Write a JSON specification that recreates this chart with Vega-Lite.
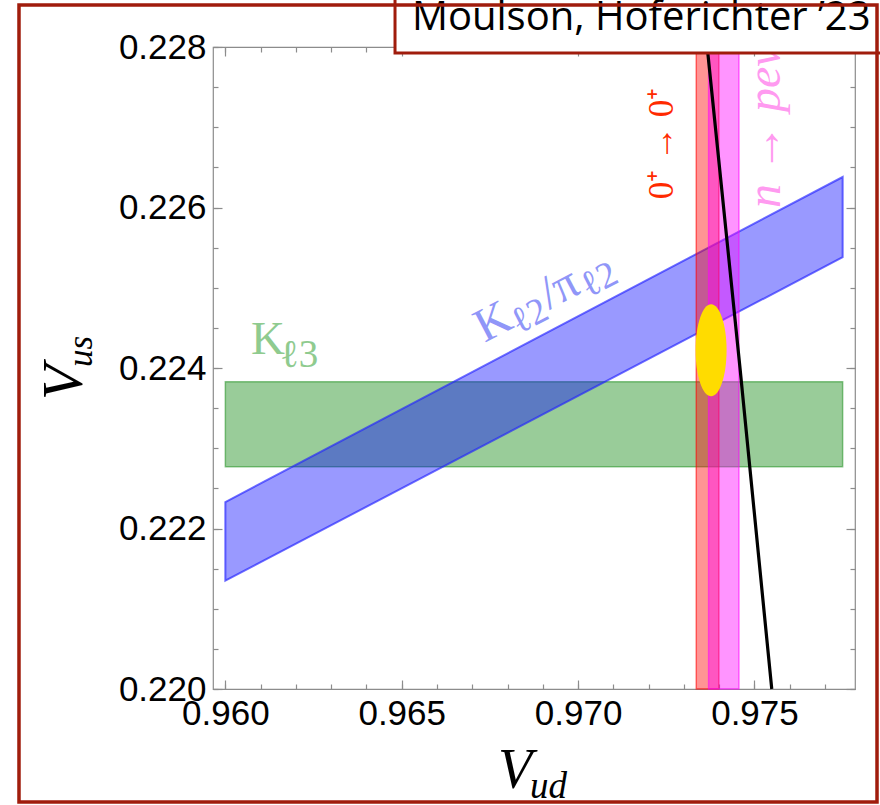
{
  "$schema": "https://vega.github.io/schema/vega-lite/v6.json",
  "width": 642,
  "height": 642,
  "autosize": {"type": "none"},
  "padding": {"left": 213, "top": 47, "right": 25, "bottom": 116},
  "background": "white",
  "config": {
    "view": {"stroke": "#8c8c8c", "strokeWidth": 1.2},
    "axis": {"grid": false, "domain": false, "tickColor": "#8c8c8c", "tickWidth": 1.2, "labelFont": "Liberation Sans", "labelFontSize": 35, "labelColor": "black", "labelFlush": false, "labelOverlap": false}
  },
  "datasets": {
    "bands": [
      {"band": "Kl3", "x": 0.96, "x2": 0.9775, "y": 0.22277, "y2": 0.22383},
      {"band": "superallowed", "x": 0.97335, "x2": 0.97399, "y": 0.22, "y2": 0.228},
      {"band": "neutron", "x": 0.9737, "x2": 0.97456, "y": 0.22, "y2": 0.228}
    ],
    "kl2": [
      {"x": 0.96, "y": 0.22233, "y2": 0.22135},
      {"x": 0.9775, "y": 0.22638, "y2": 0.22538}
    ],
    "unitarity": [
      {"x": 0.97366, "y": 0.228},
      {"x": 0.97459, "y": 0.224},
      {"x": 0.97549, "y": 0.22}
    ],
    "fit": [{"x": 0.97377, "y": 0.22422}],
    "labels": [
      {"kind": "kl3", "text": "K", "x": 0.96073, "y": 0.224174},
      {"kind": "kl3sub", "text": "ℓ3", "x": 0.96155, "y": 0.224012},
      {"kind": "kl2", "text": "K", "x": 0.96735, "y": 0.224312},
      {"kind": "kl2sub", "text": "ℓ2", "x": 0.96832, "y": 0.224419},
      {"kind": "kl2", "text": "/π", "x": 0.96918, "y": 0.224726},
      {"kind": "kl2sub", "text": "ℓ2", "x": 0.97029, "y": 0.22487},
      {"kind": "superallowed", "text": "0⁺ → 0⁺", "x": 0.97269, "y": 0.226798},
      {"kind": "neutron", "text": "n → peν", "x": 0.97572, "y": 0.225994},
      {"kind": "vus", "text": "V", "x": 0.955936, "y": 0.223601},
      {"kind": "vussub", "text": "us", "x": 0.95622, "y": 0.224012},
      {"kind": "vud", "text": "V", "x": 0.96773, "y": 0.218766},
      {"kind": "vudsub", "text": "ud", "x": 0.96864, "y": 0.218642},
      {"kind": "title", "text": "Moulson, Hoferichter ’23", "x": 0.96529, "y": 0.228211}
    ],
    "decor": [
      {"part": "box", "x": 0.96481, "x2": 0.97913, "y": 0.227925, "y2": 0.22871},
      {"part": "frame", "x": 0.95415, "x2": 0.978474, "y": 0.218592, "y2": 0.228523}
    ]
  },
  "resolve": {"axis": {"x": "independent", "y": "independent"}},
  "layer": [
    {
      "data": {"name": "bands"},
      "transform": [{"filter": "datum.band === 'Kl3'"}],
      "mark": {"type": "rect", "fill": "#008000", "fillOpacity": 0.4, "stroke": "#008000", "strokeOpacity": 0.45, "strokeWidth": 1.5},
      "encoding": {
        "x": {"field": "x", "type": "quantitative", "scale": {"domain": [0.95965, 0.97785], "nice": false, "zero": false},
              "axis": {"orient": "bottom", "title": null, "values": [0.96, 0.965, 0.97, 0.975], "format": ".3f", "tickSize": -9, "labelPadding": 16}},
        "x2": {"field": "x2"},
        "y": {"field": "y", "type": "quantitative", "scale": {"domain": [0.22, 0.228], "nice": false, "zero": false},
              "axis": {"orient": "left", "title": null, "values": [0.22, 0.222, 0.224, 0.226, 0.228], "format": ".3f", "tickSize": -9, "labelPadding": 16}},
        "y2": {"field": "y2"}
      }
    },
    {
      "data": {"name": "kl2"},
      "mark": {"type": "area", "fill": "#0000ff", "fillOpacity": 0.4, "stroke": "#2020ff", "strokeOpacity": 0.65, "strokeWidth": 2},
      "encoding": {
        "x": {"field": "x", "type": "quantitative", "scale": {"domain": [0.95965, 0.97785], "nice": false, "zero": false},
              "axis": {"orient": "bottom", "title": null, "labels": false, "tickSize": -5, "values": [0.96, 0.961, 0.962, 0.963, 0.964, 0.965, 0.966, 0.967, 0.968, 0.969, 0.97, 0.971, 0.972, 0.973, 0.974, 0.975, 0.976, 0.977]}},
        "y": {"field": "y", "type": "quantitative", "scale": {"domain": [0.22, 0.228], "nice": false, "zero": false},
              "axis": {"orient": "left", "title": null, "labels": false, "tickSize": -5, "values": [0.22, 0.2205, 0.221, 0.2215, 0.222, 0.2225, 0.223, 0.2235, 0.224, 0.2245, 0.225, 0.2255, 0.226, 0.2265, 0.227, 0.2275, 0.228]}},
        "y2": {"field": "y2"}
      }
    },
    {
      "data": {"name": "bands"},
      "transform": [{"filter": "datum.band === 'superallowed'"}],
      "mark": {"type": "rect", "fill": "#ff0000", "fillOpacity": 0.42, "stroke": "#ff0000", "strokeOpacity": 0.55, "strokeWidth": 1.5},
      "encoding": {
        "x": {"field": "x", "type": "quantitative", "scale": {"domain": [0.95965, 0.97785], "nice": false, "zero": false},
              "axis": {"orient": "top", "title": null, "labels": false, "tickSize": -9, "values": [0.96, 0.965, 0.97, 0.975]}},
        "x2": {"field": "x2"},
        "y": {"field": "y", "type": "quantitative", "scale": {"domain": [0.22, 0.228], "nice": false, "zero": false},
              "axis": {"orient": "right", "title": null, "labels": false, "tickSize": -9, "values": [0.22, 0.222, 0.224, 0.226, 0.228]}},
        "y2": {"field": "y2"}
      }
    },
    {
      "data": {"name": "bands"},
      "transform": [{"filter": "datum.band === 'neutron'"}],
      "mark": {"type": "rect", "fill": "#ff00ff", "fillOpacity": 0.42, "stroke": "#ff00ff", "strokeOpacity": 0.55, "strokeWidth": 1.5},
      "encoding": {
        "x": {"field": "x", "type": "quantitative", "scale": {"domain": [0.95965, 0.97785], "nice": false, "zero": false},
              "axis": {"orient": "top", "title": null, "labels": false, "tickSize": -5, "values": [0.96, 0.961, 0.962, 0.963, 0.964, 0.965, 0.966, 0.967, 0.968, 0.969, 0.97, 0.971, 0.972, 0.973, 0.974, 0.975, 0.976, 0.977]}},
        "x2": {"field": "x2"},
        "y": {"field": "y", "type": "quantitative", "scale": {"domain": [0.22, 0.228], "nice": false, "zero": false},
              "axis": {"orient": "right", "title": null, "labels": false, "tickSize": -5, "values": [0.22, 0.2205, 0.221, 0.2215, 0.222, 0.2225, 0.223, 0.2235, 0.224, 0.2245, 0.225, 0.2255, 0.226, 0.2265, 0.227, 0.2275, 0.228]}},
        "y2": {"field": "y2"}
      }
    },
    {
      "data": {"name": "unitarity"},
      "mark": {"type": "line", "stroke": "black", "strokeWidth": 3.2},
      "encoding": {
        "x": {"field": "x", "type": "quantitative", "scale": {"domain": [0.95965, 0.97785], "nice": false, "zero": false}, "axis": null},
        "y": {"field": "y", "type": "quantitative", "scale": {"domain": [0.22, 0.228], "nice": false, "zero": false}, "axis": null}
      }
    },
    {
      "data": {"name": "fit"},
      "mark": {"type": "point", "shape": "M0,-1 A0.337,1 0 1,1 0,1 A0.337,1 0 1,1 0,-1 Z", "size": 8464, "filled": true, "fill": "#ffdc00", "opacity": 1, "strokeWidth": 0},
      "encoding": {
        "x": {"field": "x", "type": "quantitative", "scale": {"domain": [0.95965, 0.97785], "nice": false, "zero": false}, "axis": null},
        "y": {"field": "y", "type": "quantitative", "scale": {"domain": [0.22, 0.228], "nice": false, "zero": false}, "axis": null}
      }
    },
    {
      "data": {"name": "labels"},
      "transform": [{"filter": "datum.kind === 'kl3'"}],
      "mark": {"type": "text", "font": "Liberation Serif", "fontSize": 47, "fill": "#8fcb8f", "align": "left", "baseline": "alphabetic"},
      "encoding": {
        "x": {"field": "x", "type": "quantitative", "scale": {"domain": [0.95965, 0.97785], "nice": false, "zero": false}, "axis": null},
        "y": {"field": "y", "type": "quantitative", "scale": {"domain": [0.22, 0.228], "nice": false, "zero": false}, "axis": null},
        "text": {"field": "text"}
      }
    },
    {
      "data": {"name": "labels"},
      "transform": [{"filter": "datum.kind === 'kl3sub'"}],
      "mark": {"type": "text", "font": "Liberation Serif", "fontSize": 39, "fill": "#8fcb8f", "align": "left", "baseline": "alphabetic"},
      "encoding": {
        "x": {"field": "x", "type": "quantitative", "scale": {"domain": [0.95965, 0.97785], "nice": false, "zero": false}, "axis": null},
        "y": {"field": "y", "type": "quantitative", "scale": {"domain": [0.22, 0.228], "nice": false, "zero": false}, "axis": null},
        "text": {"field": "text"}
      }
    },
    {
      "data": {"name": "labels"},
      "transform": [{"filter": "datum.kind === 'kl2'"}],
      "mark": {"type": "text", "font": "Liberation Serif", "fontSize": 48, "fill": "#9096f8", "align": "left", "baseline": "alphabetic", "angle": 332.4},
      "encoding": {
        "x": {"field": "x", "type": "quantitative", "scale": {"domain": [0.95965, 0.97785], "nice": false, "zero": false}, "axis": null},
        "y": {"field": "y", "type": "quantitative", "scale": {"domain": [0.22, 0.228], "nice": false, "zero": false}, "axis": null},
        "text": {"field": "text"}
      }
    },
    {
      "data": {"name": "labels"},
      "transform": [{"filter": "datum.kind === 'kl2sub'"}],
      "mark": {"type": "text", "font": "Liberation Serif", "fontSize": 37, "fill": "#9096f8", "align": "left", "baseline": "alphabetic", "angle": 332.4},
      "encoding": {
        "x": {"field": "x", "type": "quantitative", "scale": {"domain": [0.95965, 0.97785], "nice": false, "zero": false}, "axis": null},
        "y": {"field": "y", "type": "quantitative", "scale": {"domain": [0.22, 0.228], "nice": false, "zero": false}, "axis": null},
        "text": {"field": "text"}
      }
    },
    {
      "data": {"name": "labels"},
      "transform": [{"filter": "datum.kind === 'superallowed'"}],
      "mark": {"type": "text", "font": "Liberation Serif", "fontSize": 35, "fill": "#ff2a00", "align": "center", "baseline": "alphabetic", "angle": 270},
      "encoding": {
        "x": {"field": "x", "type": "quantitative", "scale": {"domain": [0.95965, 0.97785], "nice": false, "zero": false}, "axis": null},
        "y": {"field": "y", "type": "quantitative", "scale": {"domain": [0.22, 0.228], "nice": false, "zero": false}, "axis": null},
        "text": {"field": "text"}
      }
    },
    {
      "data": {"name": "labels"},
      "transform": [{"filter": "datum.kind === 'neutron'"}],
      "mark": {"type": "text", "font": "Liberation Serif", "fontSize": 48, "fontStyle": "italic", "fill": "#ff9af0", "align": "left", "baseline": "alphabetic", "angle": 270},
      "encoding": {
        "x": {"field": "x", "type": "quantitative", "scale": {"domain": [0.95965, 0.97785], "nice": false, "zero": false}, "axis": null},
        "y": {"field": "y", "type": "quantitative", "scale": {"domain": [0.22, 0.228], "nice": false, "zero": false}, "axis": null},
        "text": {"field": "text"}
      }
    },
    {
      "data": {"name": "labels"},
      "transform": [{"filter": "datum.kind === 'vus'"}],
      "mark": {"type": "text", "font": "Liberation Serif", "fontSize": 58, "fontStyle": "italic", "fill": "black", "align": "left", "baseline": "alphabetic", "angle": 270},
      "encoding": {
        "x": {"field": "x", "type": "quantitative", "scale": {"domain": [0.95965, 0.97785], "nice": false, "zero": false}, "axis": null},
        "y": {"field": "y", "type": "quantitative", "scale": {"domain": [0.22, 0.228], "nice": false, "zero": false}, "axis": null},
        "text": {"field": "text"}
      }
    },
    {
      "data": {"name": "labels"},
      "transform": [{"filter": "datum.kind === 'vussub'"}],
      "mark": {"type": "text", "font": "Liberation Serif", "fontSize": 35, "fontStyle": "italic", "fill": "black", "align": "left", "baseline": "alphabetic", "angle": 270},
      "encoding": {
        "x": {"field": "x", "type": "quantitative", "scale": {"domain": [0.95965, 0.97785], "nice": false, "zero": false}, "axis": null},
        "y": {"field": "y", "type": "quantitative", "scale": {"domain": [0.22, 0.228], "nice": false, "zero": false}, "axis": null},
        "text": {"field": "text"}
      }
    },
    {
      "data": {"name": "labels"},
      "transform": [{"filter": "datum.kind === 'vud'"}],
      "mark": {"type": "text", "font": "Liberation Serif", "fontSize": 56, "fontStyle": "italic", "fill": "black", "align": "left", "baseline": "alphabetic"},
      "encoding": {
        "x": {"field": "x", "type": "quantitative", "scale": {"domain": [0.95965, 0.97785], "nice": false, "zero": false}, "axis": null},
        "y": {"field": "y", "type": "quantitative", "scale": {"domain": [0.22, 0.228], "nice": false, "zero": false}, "axis": null},
        "text": {"field": "text"}
      }
    },
    {
      "data": {"name": "labels"},
      "transform": [{"filter": "datum.kind === 'vudsub'"}],
      "mark": {"type": "text", "font": "Liberation Serif", "fontSize": 37, "fontStyle": "italic", "fill": "black", "align": "left", "baseline": "alphabetic"},
      "encoding": {
        "x": {"field": "x", "type": "quantitative", "scale": {"domain": [0.95965, 0.97785], "nice": false, "zero": false}, "axis": null},
        "y": {"field": "y", "type": "quantitative", "scale": {"domain": [0.22, 0.228], "nice": false, "zero": false}, "axis": null},
        "text": {"field": "text"}
      }
    },
    {
      "data": {"name": "decor"},
      "transform": [{"filter": "datum.part === 'box'"}],
      "mark": {"type": "rect", "fill": "white", "stroke": "#a01c0c", "strokeWidth": 3},
      "encoding": {
        "x": {"field": "x", "type": "quantitative", "scale": {"domain": [0.95965, 0.97785], "nice": false, "zero": false}, "axis": null},
        "x2": {"field": "x2"},
        "y": {"field": "y", "type": "quantitative", "scale": {"domain": [0.22, 0.228], "nice": false, "zero": false}, "axis": null},
        "y2": {"field": "y2"}
      }
    },
    {
      "data": {"name": "labels"},
      "transform": [{"filter": "datum.kind === 'title'"}],
      "mark": {"type": "text", "font": "Open Sans", "fontSize": 40, "fill": "black", "align": "left", "baseline": "alphabetic"},
      "encoding": {
        "x": {"field": "x", "type": "quantitative", "scale": {"domain": [0.95965, 0.97785], "nice": false, "zero": false}, "axis": null},
        "y": {"field": "y", "type": "quantitative", "scale": {"domain": [0.22, 0.228], "nice": false, "zero": false}, "axis": null},
        "text": {"field": "text"}
      }
    },
    {
      "data": {"name": "decor"},
      "transform": [{"filter": "datum.part === 'frame'"}],
      "mark": {"type": "rect", "fill": "white", "fillOpacity": 0, "stroke": "#a01c0c", "strokeWidth": 3.5},
      "encoding": {
        "x": {"field": "x", "type": "quantitative", "scale": {"domain": [0.95965, 0.97785], "nice": false, "zero": false}, "axis": null},
        "x2": {"field": "x2"},
        "y": {"field": "y", "type": "quantitative", "scale": {"domain": [0.22, 0.228], "nice": false, "zero": false}, "axis": null},
        "y2": {"field": "y2"}
      }
    }
  ]
}
